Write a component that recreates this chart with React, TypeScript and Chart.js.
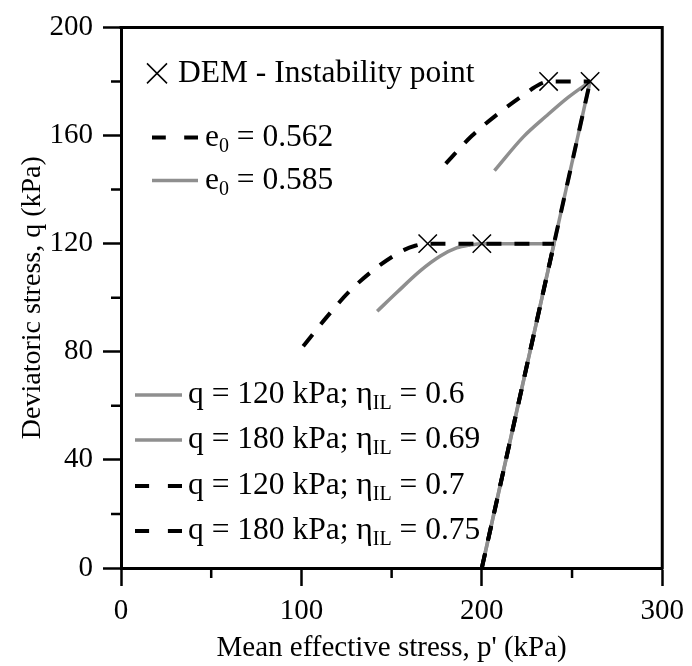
import React, { useEffect, useRef } from "react";
import { Chart, registerables } from "chart.js";

Chart.register(...registerables);

const FONT = "'Liberation Serif', 'Times New Roman', serif";
const GREY = "#8f8f8f";
const BLACK = "#000000";

// Drained loading path shared by every specimen (q = 3(p' - 200))
const drainedP = [200, 240, 260];
const drainedQ = [0, 120, 180];

// e0 = 0.585 (grey solid): undrained response after the stress-controlled stage
const loose120P = [142, 153, 166, 177, 186, 193.5, 200, 240];
const loose120Q = [95, 102, 110, 115.4, 118.4, 119.5, 120, 120];
const loose180P = [207, 223, 235.7, 248, 260];
const loose180Q = [147, 159.5, 167.2, 174.2, 180];

// e0 = 0.562 (black dashed)
const dense120P = [101, 114, 127, 143, 157, 163, 170, 240];
const dense120Q = [82, 92.8, 102.6, 111.8, 117.7, 119.2, 120, 120];
const dense180P = [180, 194.5, 210, 226, 229, 237, 260];
const dense180Q = [149.6, 159.9, 168.6, 176.4, 177.8, 180, 180];

// DEM instability points
const instabilityP = [170, 200, 237, 260];
const instabilityQ = [120, 120, 180, 180];

// Axis ticks
const xMajorTicks = [0, 100, 200, 300];
const xMinorTicks = [50, 150, 250];
const yMajorTicks = [0, 40, 80, 120, 160, 200];
const yMinorTicks = [20, 60, 100, 140, 180];

// Legend entries
const topLegend = [
  { kind: "marker", parts: [["DEM - Instability point", false]] },
  { kind: "dash", parts: [["e", false], ["0", true], [" = 0.562", false]] },
  { kind: "solid", parts: [["e", false], ["0", true], [" = 0.585", false]] },
];
const bottomLegend = [
  { kind: "solid", parts: [["q = 120 kPa; η", false], ["IL", true], [" = 0.6", false]] },
  { kind: "solid", parts: [["q = 180 kPa; η", false], ["IL", true], [" = 0.69", false]] },
  { kind: "dash", parts: [["q = 120 kPa; η", false], ["IL", true], [" = 0.7", false]] },
  { kind: "dash", parts: [["q = 180 kPa; η", false], ["IL", true], [" = 0.75", false]] },
];

const toXY = (ps: number[], qs: number[]) => ps.map((p, i) => ({ x: p, y: qs[i] }));

const LEGEND_SIZE = 31.5;

function drawRich(ctx: CanvasRenderingContext2D, x: number, y: number, parts: any[]) {
  let cx = x;
  ctx.textAlign = "left";
  ctx.textBaseline = "middle";
  ctx.fillStyle = BLACK;
  for (const [txt, sub] of parts) {
    if (sub) {
      ctx.font = `${Math.round(LEGEND_SIZE * 0.62)}px ${FONT}`;
      ctx.fillText(txt, cx, y + 9);
    } else {
      ctx.font = `${LEGEND_SIZE}px ${FONT}`;
      ctx.fillText(txt, cx, y);
    }
    cx += ctx.measureText(txt).width;
  }
}

function drawSample(ctx: CanvasRenderingContext2D, kind: string, x0: number, x1: number, y: number) {
  ctx.save();
  if (kind === "solid") {
    ctx.strokeStyle = GREY;
    ctx.lineWidth = 3.5;
    ctx.beginPath();
    ctx.moveTo(x0, y);
    ctx.lineTo(x1, y);
    ctx.stroke();
  } else if (kind === "dash") {
    ctx.strokeStyle = BLACK;
    ctx.lineWidth = 4;
    const w = x1 - x0;
    ctx.beginPath();
    ctx.moveTo(x0, y);
    ctx.lineTo(x0 + w * 0.3, y);
    ctx.moveTo(x1 - w * 0.3, y);
    ctx.lineTo(x1, y);
    ctx.stroke();
  } else {
    const cx = (x0 + x1) / 2;
    const r = 10;
    ctx.strokeStyle = BLACK;
    ctx.lineWidth = 1.5;
    ctx.beginPath();
    ctx.moveTo(cx - r, y - r);
    ctx.lineTo(cx + r, y + r);
    ctx.moveTo(cx + r, y - r);
    ctx.lineTo(cx - r, y + r);
    ctx.stroke();
  }
  ctx.restore();
}

const framePlugin = {
  id: "frameAndLegend",
  afterDraw(chart: any) {
    const ctx: CanvasRenderingContext2D = chart.ctx;
    const { left, right, top, bottom } = chart.chartArea;
    const xs = chart.scales.x;
    const ys = chart.scales.y;
    ctx.save();
    // top and right frame
    ctx.strokeStyle = BLACK;
    ctx.lineWidth = 3;
    ctx.beginPath();
    ctx.moveTo(left - 1.5, top);
    ctx.lineTo(right, top);
    ctx.lineTo(right, bottom + 1.5);
    ctx.stroke();
    // minor ticks
    ctx.lineWidth = 2.5;
    ctx.beginPath();
    for (const v of xMinorTicks) {
      const px = xs.getPixelForValue(v);
      ctx.moveTo(px, bottom);
      ctx.lineTo(px, bottom + 10);
    }
    for (const v of yMinorTicks) {
      const py = ys.getPixelForValue(v);
      ctx.moveTo(left, py);
      ctx.lineTo(left - 10, py);
    }
    ctx.stroke();

    // upper legend
    const topRows = [46, 110, 153];
    topLegend.forEach((row, i) => {
      const y = top + topRows[i];
      if (row.kind === "marker") {
        drawSample(ctx, "marker", left + 26, left + 46, y);
        drawRich(ctx, left + 57, y, row.parts);
      } else {
        drawSample(ctx, row.kind, left + 31, left + 77, y);
        drawRich(ctx, left + 84, y, row.parts);
      }
    });
    // lower legend
    const bottomRows = [395, 440, 486, 531];
    bottomLegend.forEach((row, i) => {
      const y = bottomRows[i];
      drawSample(ctx, row.kind, left + 14, left + 61, y);
      drawRich(ctx, left + 67, y, row.parts);
    });
    ctx.restore();
  },
};

export default function App() {
  const canvasRef = useRef<HTMLCanvasElement | null>(null);

  useEffect(() => {
    document.body.style.margin = "0";
    const canvas = canvasRef.current;
    if (!canvas) return;

    const solid = (data: any[], tension = 0) => ({
      data,
      borderColor: GREY,
      borderWidth: 3.5,
      pointRadius: 0,
      fill: false,
      tension,
      cubicInterpolationMode: tension ? "monotone" : "default",
    });
    const dashed = (data: any[], tension = 0) => ({
      data,
      borderColor: BLACK,
      borderWidth: 4,
      borderDash: [15, 13],
      pointRadius: 0,
      fill: false,
      tension,
      cubicInterpolationMode: tension ? "monotone" : "default",
    });

    const chart = new Chart(canvas, {
      type: "line",
      data: {
        datasets: [
          {
            label: "DEM - Instability point",
            data: toXY(instabilityP, instabilityQ),
            showLine: false,
            pointStyle: "crossRot",
            pointRadius: 13,
            pointBorderWidth: 1.5,
            pointBorderColor: BLACK,
            borderColor: BLACK,
          },
          { label: "q = 120 kPa; ηIL = 0.7", ...dashed(toXY(dense120P, dense120Q), 0.4) },
          { label: "q = 180 kPa; ηIL = 0.75", ...dashed(toXY(dense180P, dense180Q), 0.4) },
          { label: "drained 120 (dashed)", ...dashed(toXY(drainedP.slice(0, 2), drainedQ.slice(0, 2))) },
          { label: "drained 180 (dashed)", ...dashed(toXY(drainedP, drainedQ)) },
          { label: "q = 120 kPa; ηIL = 0.6", ...solid(toXY(loose120P, loose120Q), 0.4) },
          { label: "q = 180 kPa; ηIL = 0.69", ...solid(toXY(loose180P, loose180Q), 0.2) },
          { label: "drained 120 (solid)", ...solid(toXY(drainedP.slice(0, 2), drainedQ.slice(0, 2))) },
          { label: "drained 180 (solid)", ...solid(toXY(drainedP, drainedQ)) },
        ],
      },
      options: {
        responsive: false,
        animation: false,
        events: [],
        layout: { padding: { top: 22, right: 25, left: 0, bottom: 0 } },
        plugins: { legend: { display: false }, tooltip: { enabled: false } },
        scales: {
          x: {
            type: "linear",
            min: 0,
            max: 300,
            afterFit: (s: any) => {
              s.height = 98;
            },
            afterBuildTicks: (s: any) => {
              s.ticks = xMajorTicks.map((v) => ({ value: v }));
            },
            ticks: {
              color: BLACK,
              font: { family: FONT, size: 29 },
              padding: 8,
              maxRotation: 0,
            },
            grid: {
              drawOnChartArea: false,
              drawTicks: true,
              tickLength: 18,
              tickColor: BLACK,
              tickWidth: 2.5,
            },
            border: { display: true, color: BLACK, width: 3 },
            title: {
              display: true,
              text: "Mean effective stress, p' (kPa)",
              color: BLACK,
              font: { family: FONT, size: 29 },
              padding: { top: 3, bottom: 0 },
            },
          },
          y: {
            type: "linear",
            min: 0,
            max: 200,
            afterFit: (s: any) => {
              s.width = 121;
            },
            afterBuildTicks: (s: any) => {
              s.ticks = yMajorTicks.map((v) => ({ value: v }));
            },
            ticks: {
              color: BLACK,
              font: { family: FONT, size: 29 },
              padding: 10,
            },
            grid: {
              drawOnChartArea: false,
              drawTicks: true,
              tickLength: 18,
              tickColor: BLACK,
              tickWidth: 2.5,
            },
            border: { display: true, color: BLACK, width: 3 },
            title: {
              display: true,
              text: "Deviatoric stress, q (kPa)",
              color: BLACK,
              font: { family: FONT, size: 28 },
              padding: { top: 16, bottom: 0 },
            },
          },
        },
      },
      plugins: [framePlugin],
    } as any);

    return () => chart.destroy();
  }, []);

  return (
    <div style={{ width: 692, height: 666, background: "#fff" }}>
      <canvas ref={canvasRef} width={692} height={666} style={{ display: "block" }} />
    </div>
  );
}
